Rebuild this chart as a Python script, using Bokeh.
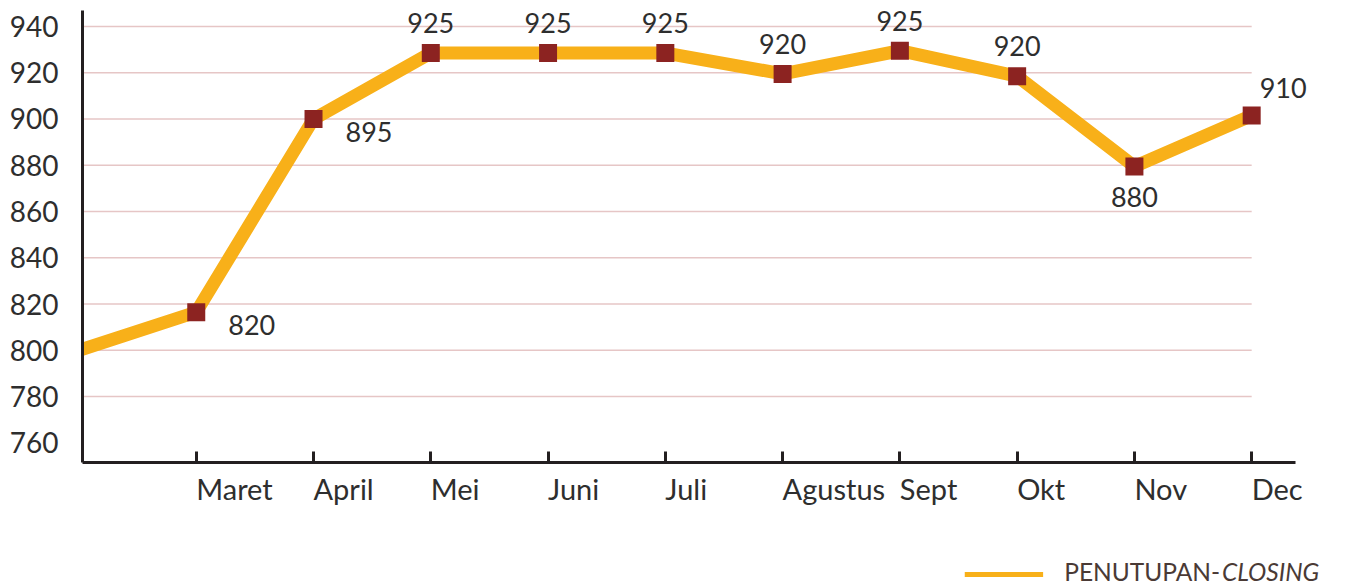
import numpy as np
from bokeh.plotting import figure
from bokeh.models import ColumnDataSource, Range1d, FixedTicker
from bokeh.layouts import column
from bokeh.embed import file_html
from bokeh.resources import INLINE
from bokeh.core.properties import value

# ---------------- data ----------------
months = ["", "Maret", "April", "Mei", "Juni", "Juli", "Agustus", "Sept", "Okt", "Nov", "Dec"]
closing = [800, 816.5, 900, 928.5, 928.5, 928.5, 919.5, 929.5, 918.5, 879.5, 901.5]
point_labels = ["", "820", "895", "925", "925", "925", "920", "925", "920", "880", "910"]
y_ticks = [760, 780, 800, 820, 840, 860, 880, 900, 920, 940]
series_name = ["PENUTUPAN-", "CLOSING"]

# ---------------- style ----------------
FONT = "Lato"
LINE_C = "#F8B019"
MARK_C = "#8C2321"
GRID_C = "#E6C6C6"
AXIS_C = "#231F20"
TEXT_C = "#2E2E2E"
LEG_TEXT_C = "#4A3A35"
label_place = ["none", "right", "right", "above", "above", "above", "above", "above", "above", "below", "above_right"]
PLACE = {  # dx, dy (screen px, + = down), align
    "right": (32, 13, "left"),
    "above": (0, -30, "center"),
    "below": (0, 31, "center"),
    "above_right": (8, -28, "left"),
    "none": (0, 0, "center"),
}

idx = np.arange(len(months))
Y0, Y1 = 751.5, 946.9

p = figure(width=1370, height=538, output_backend="svg", toolbar_location=None,
           x_range=Range1d(0.03, 10.80), y_range=Range1d(Y0, Y1),
           min_border_left=82, min_border_right=25, min_border_top=10, min_border_bottom=76)
p.outline_line_color = None
p.xgrid.visible = False
p.ygrid.visible = False

# grid lines (stop at last category)
p.segment(x0=[idx[0]] * len(y_ticks[1:]), x1=[idx[-1]] * len(y_ticks[1:]),
          y0=y_ticks[1:], y1=y_ticks[1:], line_color=GRID_C, line_width=1.5, level="underlay")

src = ColumnDataSource(dict(x=idx, y=closing))
p.line("x", "y", source=src, line_color=LINE_C, line_width=13, line_join="miter")

msrc = ColumnDataSource(dict(x=idx[1:], y=closing[1:]))
p.scatter("x", "y", source=msrc, marker="square", size=18, fill_color=MARK_C, line_color=None)

lsrc = ColumnDataSource(dict(
    x=idx[1:], y=closing[1:], t=point_labels[1:],
    dx=[PLACE[k][0] for k in label_place[1:]],
    dy=[PLACE[k][1] for k in label_place[1:]],
    al=[PLACE[k][2] for k in label_place[1:]],
))
p.text("x", "y", text="t", source=lsrc, x_offset="dx", y_offset="dy", text_align="al",
       text_baseline="alphabetic", text_font=value(FONT), text_font_size="27px", text_color=TEXT_C)

# axes
xa = p.xaxis[0]
xa.ticker = FixedTicker(ticks=list(idx[1:]))
xa.major_label_overrides = {int(i): m for i, m in zip(idx, months)}
xa.major_label_orientation = -0.0001   # tiny angle -> labels start at their tick
xa.bounds = (0.03, 10.375)
xa.axis_line_color = AXIS_C
xa.axis_line_width = 3
xa.major_tick_line_color = AXIS_C
xa.major_tick_line_width = 3
xa.major_tick_in = 11
xa.major_tick_out = 0
xa.minor_tick_line_color = None
xa.major_label_text_font = FONT
xa.major_label_text_font_size = "29px"
xa.major_label_text_color = TEXT_C
xa.major_label_standoff = 26

ya = p.yaxis[0]
ya.ticker = FixedTicker(ticks=y_ticks)
ya.axis_line_color = AXIS_C
ya.axis_line_width = 3
ya.major_tick_line_color = None
ya.minor_tick_line_color = None
ya.major_tick_out = 0
ya.major_tick_in = 0
ya.major_label_text_font = FONT
ya.major_label_text_font_size = "28px"
ya.major_label_text_color = TEXT_C
ya.major_label_standoff = 24

# legend strip
lg = figure(width=1370, height=47, output_backend="svg", toolbar_location=None,
            x_range=Range1d(0, 1370), y_range=Range1d(0, 47),
            min_border=0, min_border_left=0, min_border_right=0, min_border_top=0, min_border_bottom=0)
lg.axis.visible = False
lg.grid.visible = False
lg.outline_line_color = None
lg.segment(x0=[957], x1=[1042], y0=[11], y1=[11], line_color=LINE_C, line_width=5)
lg.text(x=[1234], y=[14], text=[series_name[0]], text_font=value(FONT), text_font_size="24.5px",
        text_color=LEG_TEXT_C, text_baseline="alphabetic", text_align="right")
lg.text(x=[1236], y=[14], text=[series_name[1]], text_font=value(FONT), text_font_size="24.5px",
        text_font_style="italic", text_color=LEG_TEXT_C, text_baseline="alphabetic", text_align="left")

layout = column(p, lg, spacing=0)
open("out.html", "w").write(file_html(layout, INLINE))
